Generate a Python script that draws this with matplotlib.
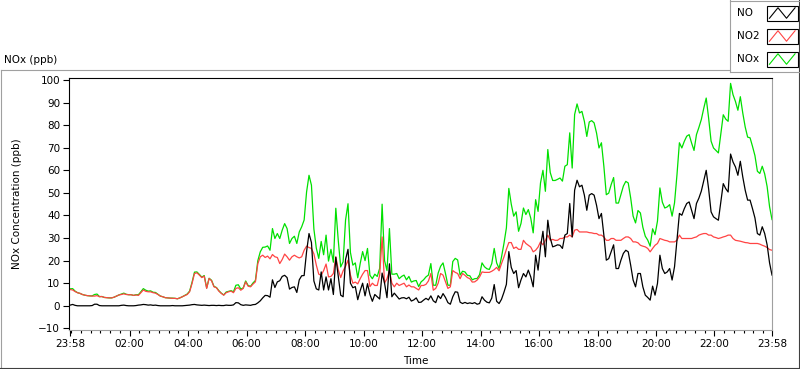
import numpy as np
import pandas as pd
import matplotlib
matplotlib.use("Agg")
import matplotlib.pyplot as plt
import matplotlib.dates as mdates
from matplotlib.ticker import FixedLocator, MultipleLocator
from matplotlib.lines import Line2D
from matplotlib.patches import Rectangle

# --- 1. Data (ppb, one reading every 5 minutes, 23:58 -> 23:58) ---
no2_ppb = [
    7.2, 7.0, 6.3, 5.8, 5.5, 5.0, 4.7, 4.5, 4.4, 4.3,
    4.3, 4.5, 4.0, 4.1, 3.7, 3.6, 3.5, 3.5, 3.8, 4.3,
    4.8, 5.0, 5.3, 5.0, 4.9, 4.9, 4.6, 4.8, 4.6, 5.8,
    7.0, 6.4, 6.2, 6.2, 5.8, 5.6, 5.0, 4.3, 4.0, 3.6,
    3.5, 3.4, 3.3, 3.3, 3.1,
    3.5, 4.0, 4.5, 5.0, 6.2, 9.9, 14.3, 14.6, 13.6, 12.5,
    13.1, 7.7, 12.1, 11.1, 8.4, 8.0, 6.5, 5.5, 4.7, 5.8,
    6.2, 6.5, 5.8, 7.7, 8.0, 6.9, 7.7, 10.6, 8.7, 8.4,
    9.6, 10.6,
    18.7, 21.7, 22.4, 21.4, 22.0, 20.8, 22.7, 21.7, 21.4, 18.7,
    20.5, 22.9, 21.7, 20.2, 21.7, 22.4, 21.7, 21.2, 21.7, 24.6,
    26.4, 25.8,
    25.4, 23.0, 18.0, 14.0, 13.5, 15.6, 18.5, 12.8, 13.0, 14.3,
    21.7, 16.0, 12.5, 15.5, 17.5, 20.2, 13.6, 10.0, 10.5, 9.7,
    12.0, 14.0, 15.6, 15.6, 8.5, 10.0, 9.0, 9.0, 13.6, 30.5,
    10.0, 12.0, 15.6, 10.0, 8.4, 10.0, 9.0, 9.5, 10.0, 8.4,
    9.2, 8.4, 8.4, 7.7, 7.0,
    9.0, 9.0, 9.5, 11.0, 14.3, 6.9, 7.7, 10.0, 14.3, 13.6,
    10.6, 7.7, 8.4, 15.6, 14.8, 14.3, 12.0, 14.3, 13.5, 12.5,
    12.0, 10.5, 10.6, 11.4, 12.8, 15.0, 14.8, 14.8, 14.8, 15.3,
    16.0, 17.0, 15.5, 18.7, 21.6, 25.0, 28.0, 28.0, 25.4, 26.0,
    25.0,
    25.0, 29.0, 27.6, 26.8, 26.0, 23.9, 24.6, 26.0, 28.3, 27.0,
    29.0, 31.3, 29.0, 29.4, 29.0, 29.0, 29.8, 29.8, 30.5, 30.5,
    31.3, 30.5, 33.5, 33.8, 32.7, 32.7, 32.7, 32.7, 32.4, 32.3,
    32.0, 32.0, 31.3, 31.3, 30.5, 29.0, 29.0, 29.8, 29.8, 29.0,
    29.0, 29.0, 29.8, 30.5, 30.5, 29.8, 28.3, 28.3, 27.9,
    26.8, 26.4, 26.1, 25.4, 23.9, 25.4, 26.8, 27.6, 29.8, 29.4,
    29.0, 28.8, 28.3, 28.3, 28.3, 29.0, 31.3, 29.8, 29.8, 29.8,
    29.8, 29.8, 30.2, 30.5, 31.3, 31.7, 32.0, 32.0, 31.3, 31.3,
    30.5, 30.2, 29.8, 30.1, 30.5, 30.8, 31.3, 31.3, 29.8, 29.0,
    28.8, 28.6, 28.3, 28.0, 27.9, 27.6, 27.6, 27.6, 27.6, 27.3,
    26.8, 26.4, 25.8, 24.9, 24.6,
]

no_ppb = [
    0.3, 0.6, 0.2, 0.0, 0.0, 0.0, 0.0, 0.0, 0.0, 0.1,
    0.7, 0.7, 0.1, 0.0, 0.0, 0.0, 0.0, 0.0, 0.0, 0.0,
    0.0, 0.2, 0.3, 0.1, 0.0, 0.0, 0.0, 0.1, 0.3, 0.4,
    0.6, 0.5, 0.3, 0.4, 0.2, 0.3, 0.1, 0.0, 0.0, 0.0,
    0.0, 0.0, 0.1, 0.0, 0.0,
    0.0, 0.0, 0.1, 0.2, 0.3, 0.5, 0.6, 0.4, 0.3, 0.2,
    0.3, 0.2, 0.1, 0.2, 0.2, 0.1, 0.2, 0.1, 0.1, 0.3,
    0.2, 0.2, 0.4, 1.4, 1.3, 0.5, 0.2, 0.4, 0.3, 0.2,
    0.5, 0.6,
    1.3, 2.2, 3.5, 4.6, 4.5, 3.8, 11.5, 8.1, 10.6, 11.1,
    13.0, 13.5, 12.5, 7.4, 8.1, 8.4, 5.9, 11.5, 13.3, 13.4,
    24.0, 32.0,
    28.0, 11.0, 7.5, 7.0, 15.0, 7.0, 12.8, 7.0, 12.0, 5.0,
    21.5, 13.0, 4.7, 4.0, 20.5, 25.0, 10.0, 8.0, 8.5, 2.7,
    6.7, 10.0, 4.4, 9.8, 5.0, 2.0, 5.0, 4.0, 3.0, 14.5,
    10.0, 3.6, 18.6, 4.0, 5.6, 4.3, 3.0, 3.5, 3.6, 3.1,
    3.8, 2.1, 2.6, 3.5, 1.5,
    1.6, 2.5, 3.3, 2.6, 4.4, 2.2, 1.4, 4.5, 3.2, 5.4,
    3.7, 1.4, 0.7, 4.0, 6.2, 6.0, 1.6, 1.0, 1.5, 1.0,
    1.3, 1.0, 1.4, 0.7, 1.0, 4.0, 2.5, 1.6, 1.3, 3.4,
    9.4, 2.0, 1.0, 2.9, 6.0, 9.5, 24.0, 17.0, 14.3, 15.6,
    8.0,
    11.5, 14.3, 12.8, 15.8, 12.8, 8.4, 22.4, 15.8, 26.1, 33.0,
    21.7, 37.9, 30.0, 26.1, 26.5, 27.0, 26.8, 25.4, 31.3, 32.0,
    45.3, 30.5, 51.2, 55.6, 52.7, 53.4, 49.0, 42.3, 49.0, 49.7,
    49.0, 44.5, 38.6, 40.9, 31.3, 20.2, 20.9, 23.9, 27.0, 16.5,
    16.5, 20.2, 23.2, 24.6, 23.9, 18.0, 11.4, 8.4, 14.3,
    14.3, 8.4, 4.7, 3.7, 2.5, 8.7, 4.7, 9.9, 22.4, 16.5,
    14.3, 15.0, 16.5, 11.4, 17.3, 29.0, 40.9, 40.1, 43.0, 45.3,
    46.0, 42.3, 38.6, 45.3, 47.7, 50.8, 55.5, 60.0, 51.7, 41.6,
    39.4, 38.6, 37.9, 46.0, 54.1, 51.9, 50.4, 67.2, 63.7, 61.5,
    57.8, 64.0, 57.1, 51.2, 46.8, 46.8, 43.0, 38.9, 32.0, 31.3,
    35.0, 32.0, 27.0, 19.0, 13.6,
]

nox_ppb = [
    7.5, 7.6, 6.5, 5.8, 5.5, 5.0, 4.7, 4.5, 4.4, 4.4,
    5.0, 5.2, 4.1, 4.1, 3.7, 3.6, 3.5, 3.5, 3.8, 4.3,
    4.8, 5.2, 5.6, 5.1, 4.9, 4.9, 4.6, 4.9, 4.9, 6.2,
    7.6, 6.9, 6.5, 6.6, 6.0, 5.9, 5.1, 4.3, 4.0, 3.6,
    3.5, 3.4, 3.4, 3.3, 3.1,
    3.5, 4.0, 4.6, 5.2, 6.5, 10.4, 14.9, 15.0, 13.9, 12.7,
    13.4, 7.9, 12.2, 11.3, 8.6, 8.1, 6.7, 5.6, 4.8, 6.1,
    6.4, 6.7, 6.2, 9.1, 9.3, 7.4, 7.9, 11.0, 9.0, 8.6,
    10.1, 11.2,
    20.0, 23.9, 25.9, 26.0, 26.5, 24.6, 34.2, 29.8, 32.0, 29.8,
    33.5, 36.4, 34.2, 27.6, 29.8, 30.8, 27.6, 32.7, 35.0, 38.0,
    50.4, 57.8,
    53.4, 34.0, 25.5, 21.0, 28.5, 22.6, 31.3, 19.8, 25.0, 19.3,
    43.2, 29.0, 17.2, 19.5, 38.0, 45.2, 23.6, 18.0, 19.0, 12.4,
    18.7, 24.0, 20.0, 25.4, 13.5, 12.0, 14.0, 13.0, 16.6, 45.0,
    20.0, 15.6, 34.2, 14.0, 14.0, 14.3, 12.0, 13.0, 13.6, 11.5,
    13.0, 10.5, 11.0, 11.2, 8.5,
    10.6, 11.5, 12.8, 13.6, 18.7, 9.1, 9.1, 14.5, 17.5, 19.0,
    14.3, 9.1, 9.1, 19.6, 21.0, 20.3, 13.6, 15.3, 15.0, 13.5,
    13.3, 11.5, 12.0, 12.1, 13.8, 19.0, 17.3, 16.4, 16.1, 18.7,
    25.4, 19.0, 16.5, 21.6, 27.6, 34.5, 52.0, 45.0, 39.7, 41.6,
    33.0,
    36.5, 43.3, 40.4, 42.6, 38.8, 32.3, 47.0, 41.8, 54.4, 60.0,
    50.7, 69.2, 59.0, 55.5, 55.5, 56.0, 56.6, 55.2, 61.8, 62.5,
    76.6, 61.0, 84.7, 89.4, 85.4, 86.1, 81.7, 75.0, 81.4, 82.0,
    81.0, 76.5, 69.9, 72.2, 61.8, 49.2, 49.9, 53.7, 56.8, 45.5,
    45.5, 49.2, 53.0, 55.1, 54.4, 47.8, 39.7, 36.7, 42.2,
    41.1, 34.8, 30.8, 29.1, 26.4, 34.1, 31.5, 37.5, 52.2, 45.9,
    43.3, 43.8, 44.8, 39.7, 45.6, 58.0, 72.2, 69.9, 72.8, 75.1,
    75.8, 72.1, 68.8, 75.8, 79.0, 82.5, 87.5, 92.0, 83.0, 72.9,
    69.9, 68.8, 67.7, 76.1, 84.6, 82.7, 81.7, 98.5, 93.5, 90.5,
    86.6, 92.6, 85.4, 79.2, 74.7, 74.4, 70.6, 66.5, 59.6, 58.6,
    61.8, 58.4, 52.8, 43.9, 38.2,
]

start = pd.Timestamp("2021-03-01 23:58")
end = start + pd.Timedelta(days=1)
times = pd.date_range(start, periods=len(no_ppb), freq="5min")

series_names = ["NO", "NO2", "NOx"]
series_colors = {"NO": "black", "NO2": "#ff4444", "NOx": "#00e000"}

# --- 2. Figure / panel ---
W, H = 800, 369
fig = plt.figure(figsize=(W / 100, H / 100), dpi=100)
plt.rcParams["font.family"] = ["DejaVu Sans"]


def fx(x):
    return x / W


def fy(y):
    return 1 - y / H


def fig_line(x0, y0, x1, y1, color):
    fig.add_artist(Line2D([fx(x0), fx(x1)], [fy(y0), fy(y1)],
                          transform=fig.transFigure, color=color, lw=0.8))


# panel frame
fig_line(0.5, 69.5, 0.5, 368, "#a0a0a0")
fig_line(0.5, 69.5, 730, 69.5, "#a0a0a0")
fig_line(0, 368, 798.5, 368, "#404040")
fig_line(798.5, 0, 798.5, 368, "#404040")

# --- 3. Plot area ---
left, right, top, bottom = 68.5, 772, 78.3, 329.5
ax = fig.add_axes([fx(left), fy(bottom), fx(right - left), (bottom - top) / H])

ax.plot(times, nox_ppb, color=series_colors["NOx"], lw=0.9)
ax.plot(times, no2_ppb, color=series_colors["NO2"], lw=0.9)
ax.plot(times, no_ppb, color=series_colors["NO"], lw=0.9)

ax.set_ylim(-10.5, 100.75)
ax.set_xlim(start - pd.Timedelta(minutes=3.5), end)
ax.yaxis.set_major_locator(MultipleLocator(10))

major = [start] + [pd.Timestamp(f"2021-03-02 {h:02d}:00") for h in range(2, 24, 2)] + [end]
ax.xaxis.set_major_locator(FixedLocator(mdates.date2num(major)))
ax.xaxis.set_major_formatter(mdates.DateFormatter("%H:%M"))
ax.xaxis.set_minor_locator(mdates.MinuteLocator(byminute=[0, 20, 40]))

ax.tick_params(axis="y", direction="out", length=4.5, width=0.8, pad=1.5, labelsize=7.5)
ax.tick_params(axis="x", which="major", direction="out", length=4, width=0.8, pad=3, labelsize=7.5)
ax.tick_params(axis="x", which="minor", direction="out", length=2.5, width=0.8)

for side in ["left", "top"]:
    ax.spines[side].set_color("black")
    ax.spines[side].set_linewidth(0.8)
for side in ["right", "bottom"]:
    ax.spines[side].set_color("#a0a0a0")
    ax.spines[side].set_linewidth(0.8)

# --- 4. Labels ---
fig.text(fx(4), fy(60), "NOx (ppb)", fontsize=7.5, va="center", ha="left")
fig.text(fx(17), fy(204), "NOx Concentration (ppb)", fontsize=7.5,
         rotation=90, va="center", ha="center")
fig.text(fx(416), fy(361), "Time", fontsize=7.5, va="center", ha="center")

# --- 5. Legend (LabVIEW style) ---
fig_line(730, 0, 730, 71.7, "#a0a0a0")
fig_line(730, 71.7, 798.5, 71.7, "#a0a0a0")
fig_line(730, 0.5, 798.5, 0.5, "#a0a0a0")

zig_x = [0.08, 0.36, 0.64, 0.92]
zig_y = [0.15, 0.85, 0.15, 0.85]
for i, name in enumerate(series_names):
    yc = 13 + 23 * i
    fig.text(fx(737), fy(yc), name, fontsize=7.5, va="center", ha="left")
    bx0, bx1, by0, by1 = 767, 797.5, yc - 7.5, yc + 7.5
    fig.add_artist(Rectangle((fx(bx0), fy(by1)), fx(bx1 - bx0), (by1 - by0) / H,
                             transform=fig.transFigure, facecolor="white",
                             edgecolor="black", lw=0.8))
    fig.add_artist(Line2D([fx(bx0 + zx * (bx1 - bx0)) for zx in zig_x],
                          [fy(by1 - zy * (by1 - by0)) for zy in zig_y],
                          transform=fig.transFigure, color=series_colors[name], lw=0.8))

plt.savefig("out.png", dpi=100)
plt.close()
